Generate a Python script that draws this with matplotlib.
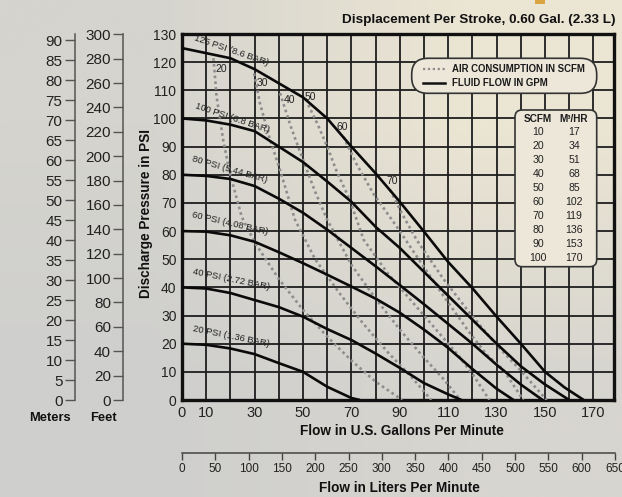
import matplotlib
matplotlib.use("Agg")
import matplotlib.pyplot as plt
import numpy as np
from matplotlib.patches import FancyBboxPatch, Rectangle
from matplotlib.lines import Line2D
from matplotlib.transforms import Affine2D
from matplotlib.colors import to_rgb

# ---- data ----
# fluid flow (GPM) vs discharge pressure (PSI) at each inlet air pressure
p125_x = [0, 10, 20, 30, 40, 50, 60, 70, 80, 90, 100, 110, 120, 130, 140, 150, 158, 166]
p125_y = [125, 123.2, 121.4, 117.5, 112.5, 107.5, 100, 90, 80.5, 70.4, 59.8, 49, 39.7, 29.6, 20, 10, 4.5, 0]
p100_x = [0, 10, 20, 30, 40, 50, 60, 70, 80, 90, 100, 110, 120, 130, 140, 150, 160]
p100_y = [100, 99.3, 97.8, 95.5, 90, 84.5, 77.6, 70.4, 61.5, 54, 45.5, 37, 28.5, 20, 12, 5.5, 0]
p80_x = [0, 10, 20, 30, 40, 50, 60, 70, 80, 90, 100, 110, 120, 130, 140, 149]
p80_y = [80, 79.6, 78.5, 76, 71.5, 66.5, 60.5, 54, 47.5, 40.8, 34, 27, 20, 12.5, 5.5, 0]
p60_x = [0, 10, 20, 30, 40, 50, 60, 70, 80, 90, 100, 110, 120, 130, 137]
p60_y = [60, 59.8, 58.5, 56.2, 52.5, 48.6, 44.5, 40.3, 36, 31, 25, 18.5, 11, 4, 0]
p40_x = [0, 10, 20, 30, 40, 50, 60, 70, 80, 90, 100, 110, 115.5]
p40_y = [40, 39.6, 38, 35.5, 33, 29.6, 25.2, 21.3, 16.5, 11.4, 6, 2, 0]
p20_x = [0, 10, 20, 30, 40, 50, 60, 70, 73.5]
p20_y = [20, 19.6, 18.3, 16.3, 13.1, 10, 4.7, 0.7, 0]

# air consumption (SCFM) curves
a20_x = [13, 14.3, 17, 19.8, 24.7, 30, 40, 50, 60, 70, 80, 91]
a20_y = [121.4, 107.7, 92.4, 80.5, 65, 56, 43, 32, 22.5, 14, 6.5, 0]
a30_x = [29.8, 32.2, 36.4, 40.5, 46.7, 55, 65, 75, 85, 95, 103]
a30_y = [116, 105.4, 92.4, 81.7, 64, 50, 38, 27, 17, 8, 0]
a40_x = [40.5, 45, 50, 55, 60, 70, 80, 90, 100, 108, 115]
a40_y = [109, 97, 85.3, 74, 64, 48, 36, 25, 15, 7.5, 0]
a50_x = [52.2, 56, 60, 64, 69.4, 75, 85, 95, 105, 115, 121, 127]
a50_y = [104.8, 98, 90, 81, 71, 57, 45, 35, 25, 15, 8, 0]
a60_x = [66.7, 72, 79, 88.7, 97, 108, 119, 126, 132.8, 141]
a60_y = [93.5, 84, 73.4, 61.6, 51, 37, 23.7, 16, 10.7, 0]
a70_x = [86, 91, 97, 108, 119, 130, 139.7, 145, 150.7]
a70_y = [74.6, 66, 56.8, 43, 30.8, 19.5, 10.7, 5.5, 0]

fluid = [(p125_x, p125_y), (p100_x, p100_y), (p80_x, p80_y),
         (p60_x, p60_y), (p40_x, p40_y), (p20_x, p20_y)]
air = [(a20_x, a20_y), (a30_x, a30_y), (a40_x, a40_y),
       (a50_x, a50_y), (a60_x, a60_y), (a70_x, a70_y)]

psi_labels = ["125 PSI (8.6 BAR)", "100 PSI (6.8 BAR)", "80 PSI (5.44 BAR)",
              "60 PSI (4.08 BAR)", "40 PSI (2.72 BAR)", "20 PSI (1.36 BAR)"]
psi_label_pos = [(20.6, 124.0), (20.7, 100.2), (19.8, 81.9), (19.8, 62.6), (20.2, 42.8), (20.2, 22.5)]
psi_label_rot = [-19, -18.5, -16, -13, -11.5, -11.5]

air_labels = ["20", "30", "40", "50", "60", "70"]
air_label_pos = [(16.4, 117.6), (33.3, 112.5), (44.6, 106.6), (53.2, 107.7), (66.2, 97.1), (87, 77.9)]

scfm = [10, 20, 30, 40, 50, 60, 70, 80, 90, 100]
m3hr = [17, 34, 51, 68, 85, 102, 119, 136, 153, 170]

gpm_ticks = [0, 10, 30, 50, 70, 90, 110, 130, 150, 170]
lpm_ticks = list(range(0, 651, 50))
psi_ticks = list(range(0, 131, 10))
feet_ticks = list(range(0, 301, 20))
meter_ticks = list(range(0, 91, 5))

bg = "#dcd9cf"
narrow = ["Liberation Sans Narrow", "Liberation Sans", "DejaVu Sans"]
plain = ["Liberation Sans", "DejaVu Sans"]

W, H = 622, 497
fig = plt.figure(figsize=(W / 100, H / 100), dpi=100, facecolor=bg)
# pixel coordinates of the reference (origin top-left)
T = Affine2D().scale(1 / W, -1 / H).translate(0, 1) + fig.transFigure

def fx(px):
    return px / W

def fy(py):
    return 1 - py / H

# soft background shading, lighter towards the top right
bgax = fig.add_axes([0, 0, 1, 1], zorder=-10)
corners = np.array([[to_rgb("#d5d4ce"), to_rgb("#ebe5d3")],
                    [to_rgb("#cfcfcd"), to_rgb("#d7d5cf")]])
bgax.imshow(corners, extent=[0, 1, 0, 1], interpolation="bilinear", aspect="auto")
bgax.axis("off")

L, R, TOP, BOT = 182, 614, 34, 400
ax = fig.add_axes([fx(L), fy(BOT), (R - L) / W, (BOT - TOP) / H])
ax.set_facecolor("none")
ax.set_xlim(0, 178.5)
ax.set_ylim(0, 130)
ax.set_xticks(gpm_ticks)
ax.set_xticks(list(range(0, 171, 10)), minor=True)
ax.set_yticks(psi_ticks)
ax.grid(True, which="both", color="#1e1e1e", linewidth=1.3)
ax.set_axisbelow(True)
ax.tick_params(which="both", length=0)
ax.tick_params(axis="x", pad=4, labelsize=10.5)
ax.tick_params(axis="y", pad=4, labelsize=10)
for lab in ax.get_xticklabels() + ax.get_yticklabels():
    lab.set_family(narrow)
    lab.set_color("#222")
for s in ax.spines.values():
    s.set_linewidth(2.4)
    s.set_color("#111")

for xs, ys in air:
    ax.plot(xs, ys, color="#8d8d8d", linestyle=(0, (1, 1.2)), linewidth=1.9, zorder=3)
for xs, ys in fluid:
    ax.plot(xs, ys, color="#0a0a0a", linewidth=1.9, zorder=4, solid_capstyle="butt")

for txt, (x, y), r in zip(psi_labels, psi_label_pos, psi_label_rot):
    ax.text(x, y, txt, rotation=r, rotation_mode="anchor", ha="center", va="center",
            fontsize=6.8, color="#222", family=plain, zorder=5)
for txt, (x, y) in zip(air_labels, air_label_pos):
    ax.text(x, y, txt, ha="center", va="center", fontsize=7.5, color="#222",
            family=plain, zorder=5)

# legend box
ax.add_artist(FancyBboxPatch((411.7, 58.3), 185, 35, boxstyle="round,pad=0,rounding_size=16",
                             transform=T, facecolor="#ece7d9", edgecolor="#333", linewidth=1.2,
                             zorder=6, clip_on=False))
ax.add_artist(Line2D([423, 445], [69.3, 69.3], transform=T, color="#8d8d8d",
                     linestyle=(0, (1, 1.2)), linewidth=1.6, zorder=7))
ax.add_artist(Line2D([422.7, 445], [82.7, 82.7], transform=T, color="#111",
                     linewidth=1.8, zorder=7))
fig.text(452, 69.5, "AIR CONSUMPTION IN SCFM", transform=T, va="center", ha="left",
         fontsize=6.9, fontweight="bold", family=narrow, color="#1a1a1a", zorder=8)
fig.text(452, 83, "FLUID FLOW IN GPM", transform=T, va="center", ha="left",
         fontsize=6.9, fontweight="bold", family=narrow, color="#1a1a1a", zorder=8)

# SCFM / M3/HR table
ax.add_artist(FancyBboxPatch((515, 110), 81.7, 156.7, boxstyle="round,pad=0,rounding_size=7",
                             transform=T, facecolor="#ece7d9", edgecolor="#333", linewidth=1.2,
                             zorder=6, clip_on=False))
fig.text(537.7, 119.5, "SCFM", transform=T, ha="center", va="center", fontsize=7.2,
         fontweight="bold", family=narrow, color="#1a1a1a", zorder=8)
fig.text(574, 119.5, "M³/HR", transform=T, ha="center", va="center", fontsize=7.2,
         fontweight="bold", family=narrow, color="#1a1a1a", zorder=8)
for i, (a, b) in enumerate(zip(scfm, m3hr)):
    y = 132.3 + 14 * i
    fig.text(538.3, y, str(a), transform=T, ha="center", va="center", fontsize=7.6,
             family=narrow, color="#222", zorder=8)
    fig.text(574, y, str(b), transform=T, ha="center", va="center", fontsize=7.6,
             family=narrow, color="#222", zorder=8)

# meters and feet scales on the left
for spine_px, top_val, ticks in [(75, 130 * 2.31 * 0.3048, meter_ticks), (123.5, 130 * 2.31, feet_ticks)]:
    a2 = fig.add_axes([fx(spine_px), fy(BOT), 0.0001, (BOT - TOP) / H])
    a2.set_facecolor("none")
    a2.set_ylim(0, top_val)
    a2.set_yticks(ticks)
    a2.set_xticks([])
    for k in ["right", "top", "bottom"]:
        a2.spines[k].set_visible(False)
    a2.spines["left"].set_color("#555")
    a2.spines["left"].set_linewidth(1.1)
    a2.tick_params(axis="y", direction="out", length=7, width=1, color="#555",
                   labelsize=11, pad=2, labelcolor="#222")
    for lab in a2.get_yticklabels():
        lab.set_family(narrow)

# liters per minute scale at the bottom
al = fig.add_axes([fx(182), fy(453), 433 / W, 0.0001])
al.set_facecolor("none")
al.set_xlim(0, 650)
al.set_xticks(lpm_ticks)
al.set_yticks([])
for k in ["left", "right", "top"]:
    al.spines[k].set_visible(False)
al.spines["bottom"].set_color("#444")
al.spines["bottom"].set_linewidth(1.1)
al.tick_params(axis="x", direction="out", length=5, width=1, color="#444",
               labelsize=8.5, pad=2, labelcolor="#222")
for lab in al.get_xticklabels():
    lab.set_family(narrow)

# titles and axis labels
fig.text(615, 20.5, "Displacement Per Stroke, 0.60 Gal. (2.33 L)", transform=T, ha="right",
         va="center", fontsize=9.7, fontweight="bold", family=narrow, color="#111")
fig.text(146, 214, "Discharge Pressure in PSI", transform=T, rotation=90, ha="center",
         va="center", fontsize=9.8, fontweight="bold", family=narrow, color="#111")
fig.text(401.7, 431, "Flow in U.S. Gallons Per Minute", transform=T, ha="center",
         va="center", fontsize=9.8, fontweight="bold", family=narrow, color="#111")
fig.text(399.3, 488, "Flow in Liters Per Minute", transform=T, ha="center",
         va="center", fontsize=9.8, fontweight="bold", family=narrow, color="#111")
fig.text(50, 418, "Meters", transform=T, ha="center", va="center", fontsize=9.3,
         fontweight="bold", family=narrow, color="#111")
fig.text(103, 418, "Feet", transform=T, ha="center", va="center", fontsize=9.3,
         fontweight="bold", family=narrow, color="#111")

# small orange mark at the top edge
fig.patches.append(Rectangle((535, 0), 10, 4, transform=T, facecolor="#d9a441",
                             edgecolor="none", figure=fig))

fig.savefig("out.png", dpi=100, facecolor=bg)
